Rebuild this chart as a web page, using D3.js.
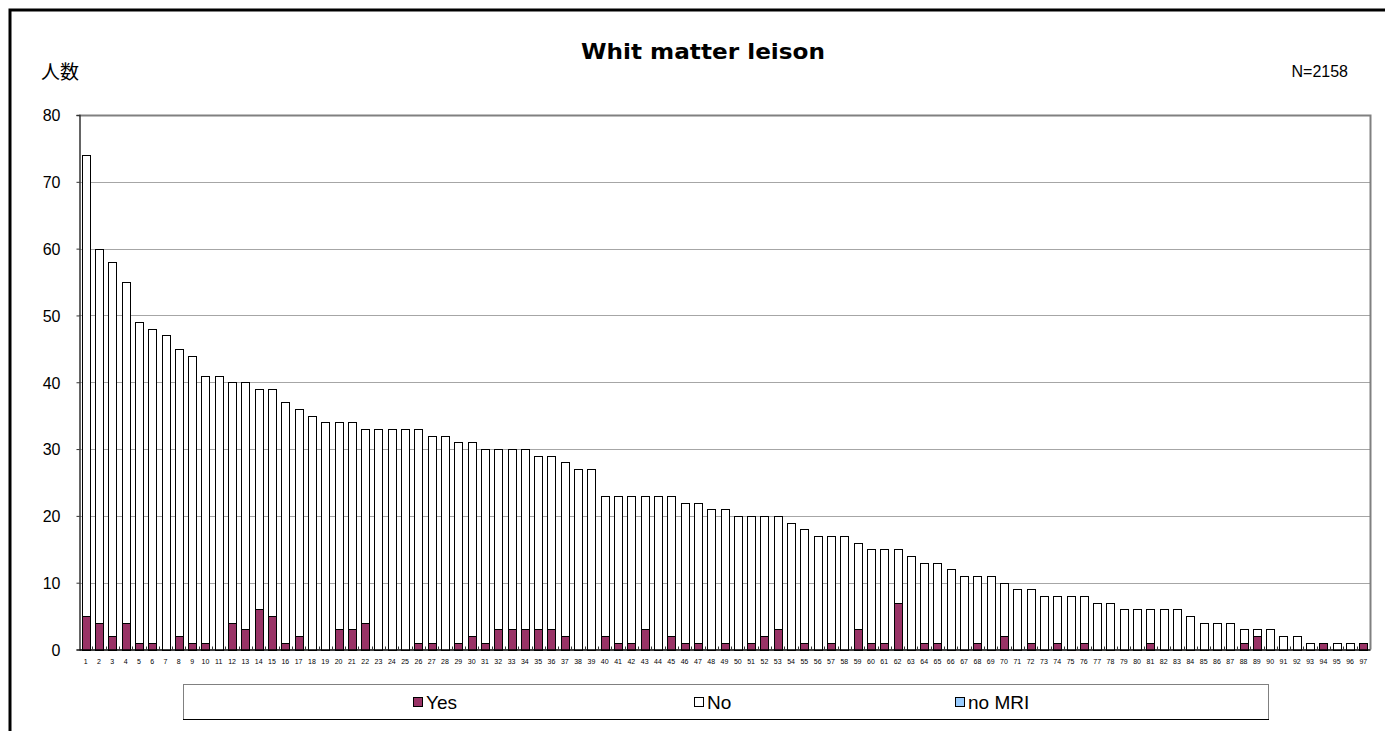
<!DOCTYPE html>
<html>
<head>
<meta charset="utf-8">
<script src="https://cdn.jsdelivr.net/npm/d3@7"></script>
<style>
  body { margin: 0; background: #fff; }
  svg text { font-family: "Liberation Sans", Arial, sans-serif; fill: #000; }
</style>
</head>
<body>
<div id="chartDiv"></div>
<script>
//----------------------------------------------------------------------------------------------------
// data
var categories = ["1","2","3","4","5","6","7","8","9","10","11","12","13","14","15","16","17","18","19","20",
                  "21","22","23","24","25","26","27","28","29","30","31","32","33","34","35","36","37","38","39","40",
                  "41","42","43","44","45","46","47","48","49","50","51","52","53","54","55","56","57","58","59","60",
                  "61","62","63","64","65","66","67","68","69","70","71","72","73","74","75","76","77","78","79","80",
                  "81","82","83","84","85","86","87","88","89","90","91","92","93","94","95","96","97"];

var yesValues = [5,4,2,4,1,1,0,2,1,1, 0,4,3,6,5,1,2,0,0,3, 3,4,0,0,0,1,1,0,1,2,
                 1,3,3,3,3,3,2,0,0,2, 1,1,3,0,2,1,1,0,1,0, 1,2,3,0,1,0,1,0,3,1,
                 1,7,0,1,1,0,0,1,0,2, 0,1,0,1,0,1,0,0,0,0, 1,0,0,0,0,0,0,1,2,0,
                 0,0,0,1,0,0,1];

var noValues  = [69,56,56,51,48,47,47,43,43,40, 41,36,37,33,34,36,34,35,34,31, 31,29,33,33,33,32,31,32,30,29,
                 29,27,27,27,26,26,26,27,27,21, 22,22,20,23,21,21,21,21,20,20, 19,18,17,19,17,17,16,17,13,14,
                 14,8,14,12,12,12,11,10,11,8, 9,8,8,7,8,7,7,7,6,6, 5,6,6,5,4,4,4,2,1,3,
                 2,2,1,0,1,1,0];

var noMriValues = [0,0,0,0,0,0,0,0,0,0, 0,0,0,0,0,0,0,0,0,0, 0,0,0,0,0,0,0,0,0,0,
                   0,0,0,0,0,0,0,0,0,0, 0,0,0,0,0,0,0,0,0,0, 0,0,0,0,0,0,0,0,0,0,
                   0,0,0,0,0,0,0,0,0,0, 0,0,0,0,0,0,0,0,0,0, 0,0,0,0,0,0,0,0,0,0,
                   0,0,0,0,0,0,0];

var seriesNames = ["Yes", "No", "no MRI"];
var seriesColors = ["#993366", "#ffffff", "#99ccff"];
var yTicks = [0, 10, 20, 30, 40, 50, 60, 70, 80];

var titleText = "Whit matter leison";
var yLabel = "人数";
var nLabel = "N=2158";

//----------------------------------------------------------------------------------------------------
var width = 1385, height = 731;
var plot = {left: 79, right: 1370, top: 115, bottom: 649.5};

var svg = d3.select("#chartDiv").append("svg")
    .attr("width", width)
    .attr("height", height);

  // outer frame (only top and left edges show in the picture)
svg.append("path")
   .attr("d", "M10,740 L10,10 L1390,10")
   .attr("fill", "none")
   .attr("stroke", "#000")
   .attr("stroke-width", 3);

var xScale = d3.scaleBand()
               .domain(categories)
               .range([plot.left, plot.right])
               .paddingInner(0.4)
               .paddingOuter(0.2);

var yScale = d3.scaleLinear()
               .domain([0, 80])
               .range([plot.bottom, plot.top]);

  // gridlines
svg.append("g")
   .selectAll("line")
   .data(yTicks.filter(function(d){ return d > 0 && d < 80; }))
   .enter()
   .append("line")
   .attr("x1", plot.left)
   .attr("x2", plot.right)
   .attr("y1", function(d){ return Math.round(yScale(d)) + 0.5; })
   .attr("y2", function(d){ return Math.round(yScale(d)) + 0.5; })
   .attr("stroke", "#a6a6a6")
   .attr("stroke-width", 1);

  // plot border top and right
svg.append("path")
   .attr("d", "M" + plot.left + "," + (plot.top + 0.5) + " L" + (plot.right + 0.5) + "," + (plot.top + 0.5) +
              " L" + (plot.right + 0.5) + "," + plot.bottom)
   .attr("fill", "none")
   .attr("stroke", "#808080")
   .attr("stroke-width", 2);

//----------------------------------------------------------------------------------------------------
// stacked bars
var table = categories.map(function(c, i){
   return {cat: c, Yes: yesValues[i], No: noValues[i], "no MRI": noMriValues[i]};
   });

var stacked = d3.stack().keys(seriesNames)(table);

svg.append("g")
   .selectAll("g")
   .data(stacked)
   .enter()
   .append("g")
   .attr("fill", function(d, i){ return seriesColors[i]; })
   .selectAll("rect")
   .data(function(d){ return d.filter(function(s){ return s[1] > s[0]; }); })
   .enter()
   .append("rect")
   .attr("x", function(d){ return Math.round(xScale(d.data.cat)) + 0.5; })
   .attr("width", Math.round(xScale.bandwidth()))
   .attr("y", function(d){ return Math.round(yScale(d[1])) + 0.5; })
   .attr("height", function(d){ return Math.round(yScale(d[0])) - Math.round(yScale(d[1])); })
   .attr("stroke", "#000")
   .attr("stroke-width", 1);

//----------------------------------------------------------------------------------------------------
// axes
var yAxis = d3.axisLeft(yScale)
              .tickValues(yTicks)
              .tickSize(3)
              .tickPadding(16);

var yAxisG = svg.append("g")
   .attr("transform", "translate(" + (plot.left + 0.5) + ",0)")
   .call(yAxis);
yAxisG.select(".domain").attr("stroke", "#333").attr("stroke-width", 1.5);
yAxisG.selectAll(".tick line").attr("stroke", "#333");
yAxisG.selectAll(".tick text")
      .style("font-size", "16px")
      .attr("dy", "0.36em");

var xAxis = d3.axisBottom(xScale)
              .tickSize(0)
              .tickPadding(10);

var xAxisG = svg.append("g")
   .attr("transform", "translate(0," + plot.bottom + ")")
   .call(xAxis);
xAxisG.select(".domain").attr("stroke", "#000").attr("stroke-width", 1.5);
xAxisG.selectAll(".tick text").style("font-size", "7px");

  // small tick marks between categories, pointing up into the plot
svg.append("g")
   .selectAll("line")
   .data(categories.slice(1))
   .enter()
   .append("line")
   .attr("x1", function(d){ return Math.round(xScale(d) - xScale.step() * xScale.paddingInner() / 2) + 0.5; })
   .attr("x2", function(d){ return Math.round(xScale(d) - xScale.step() * xScale.paddingInner() / 2) + 0.5; })
   .attr("y1", plot.bottom)
   .attr("y2", plot.bottom - 3)
   .attr("stroke", "#333");

//----------------------------------------------------------------------------------------------------
// titles
svg.append("text")
   .attr("x", 703)
   .attr("y", 59)
   .attr("text-anchor", "middle")
   .attr("textLength", 244)
   .attr("lengthAdjust", "spacingAndGlyphs")
   .style("font-family", "'DejaVu Sans', sans-serif")
   .style("font-size", "22px")
   .style("font-weight", "bold")
   .text(titleText);

svg.append("text")
   .attr("x", 41)
   .attr("y", 79)
   .style("font-family", "'Noto Sans CJK JP', sans-serif")
   .style("font-size", "19px")
   .text(yLabel);

svg.append("text")
   .attr("x", 1348)
   .attr("y", 77)
   .attr("text-anchor", "end")
   .style("font-size", "16px")
   .text(nLabel);

//----------------------------------------------------------------------------------------------------
// legend
var legend = {left: 183, right: 1268, top: 684, bottom: 719};

svg.append("rect")
   .attr("x", legend.left + 0.5)
   .attr("y", legend.top + 0.5)
   .attr("width", legend.right - legend.left)
   .attr("height", legend.bottom - legend.top)
   .attr("fill", "#fff")
   .attr("stroke", "#808080");
svg.append("line")
   .attr("x1", legend.left)
   .attr("x2", legend.right + 1)
   .attr("y1", legend.bottom + 0.5)
   .attr("y2", legend.bottom + 0.5)
   .attr("stroke", "#000");

var legendX = [413, 694, 955];

var items = svg.append("g")
   .selectAll("g")
   .data(seriesNames)
   .enter()
   .append("g")
   .attr("transform", function(d, i){ return "translate(" + legendX[i] + ",0)"; });

items.append("rect")
   .attr("x", 0.5)
   .attr("y", 697.5)
   .attr("width", 9)
   .attr("height", 9)
   .attr("fill", function(d, i){ return seriesColors[i]; })
   .attr("stroke", "#000");

items.append("text")
   .attr("x", 13)
   .attr("y", 709)
   .style("font-size", "19px")
   .text(function(d){ return d; });
</script>
</body>
</html>
